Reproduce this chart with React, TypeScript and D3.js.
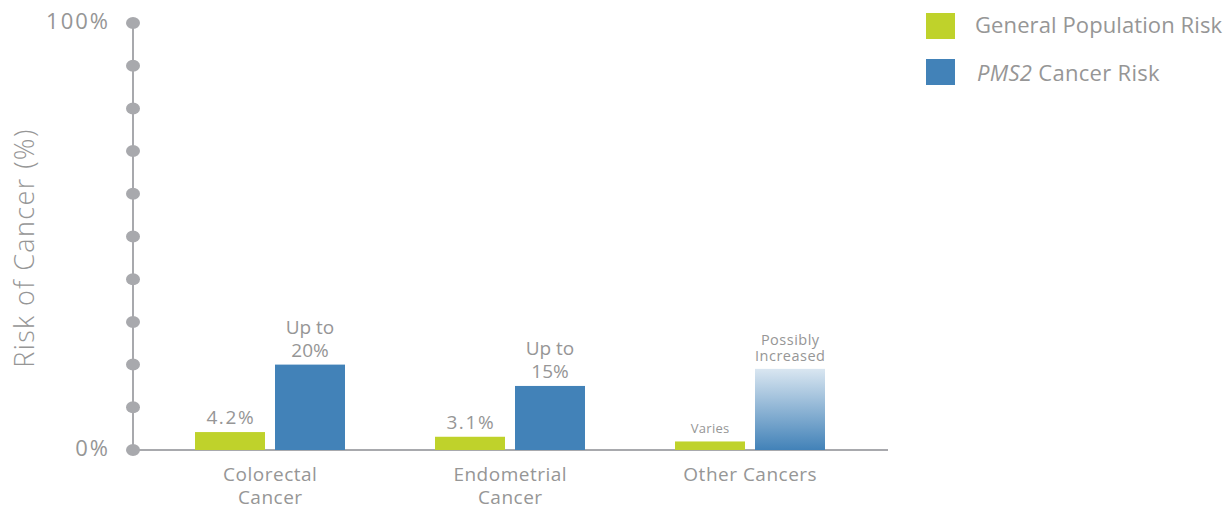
import React from "react";
import * as d3 from "d3";

const categories = [["Colorectal", "Cancer"], ["Endometrial", "Cancer"], ["Other Cancers"]];
const generalRisk = [4.2, 3.1, 2];
const pms2Risk = [20, 15, 19];
const generalLabels = [["4.2%"], ["3.1%"], ["Varies"]];
const pms2Labels = [["Up to", "20%"], ["Up to", "15%"], ["Possibly", "Increased"]];
const yTicks = d3.range(0, 101, 10);
const yTickLabels = [0, 100];
const seriesNames = ["General Population Risk", "PMS2 Cancer Risk"];

const W = 1226, H = 508;
const GREEN = "#bfd22b";
const BLUE = "#4282b8";
const GREY = "#a8a9ad";
const TEXT = "#969696";
const FONT = "'Open Sans', sans-serif";

export default function App() {
  const y = d3.scaleLinear().domain([0, 100]).range([450, 23]);
  const x = d3.scaleBand<number>().domain(d3.range(categories.length)).range([150, 870]);
  const barW = 70, gap = 10;

  return (
    <svg width={W} height={H} style={{ position: "absolute", left: 0, top: 0 }} fontFamily={FONT}>
      <defs>
        <linearGradient id="fade" x1="0" y1="1" x2="0" y2="0">
          <stop offset="0" stopColor={BLUE} />
          <stop offset="1" stopColor={BLUE} stopOpacity={0.2} />
        </linearGradient>
      </defs>
      <line x1={133} x2={133} y1={y(100)} y2={y(0)} stroke={GREY} strokeWidth={2} />
      <line x1={133} x2={888} y1={y(0)} y2={y(0)} stroke={GREY} strokeWidth={2} />
      {yTicks.map((t) => (
        <ellipse key={t} cx={133} cy={y(t)} rx={7} ry={6} fill={GREY} />
      ))}
      {yTickLabels.map((t) => (
        <text key={t} x={110} y={y(t) + 6} textAnchor="end" fontSize={22} letterSpacing={2} fill={TEXT}>{t}%</text>
      ))}
      <text transform={`translate(34,${248}) rotate(-90)`} textAnchor="middle" fontSize={27} fontWeight={300} letterSpacing={1.4} fill={TEXT}>
        Risk of Cancer (%)
      </text>
      {categories.map((cat, i) => {
        const c = (x(i) as number) + x.bandwidth() / 2;
        const gx = c - gap / 2 - barW;
        const bx = c + gap / 2;
        const isOther = i === 2;
        const gLab = generalLabels[i];
        const bLab = pms2Labels[i];
        const fsG = isOther ? 13 : 19;
        const lsG = isOther ? 0.3 : 1.6;
        const fsB = isOther ? 14.5 : 19;
        const lhB = isOther ? 15.5 : 22.5;
        return (
          <g key={i}>
            <rect x={gx} y={y(generalRisk[i])} width={barW} height={y(0) - y(generalRisk[i])} fill={GREEN} />
            <rect x={bx} y={y(pms2Risk[i])} width={barW} height={y(0) - y(pms2Risk[i])} fill={isOther ? "url(#fade)" : BLUE} />
            {gLab.map((l, k) => (
              <text key={k} x={gx + barW / 2 + lsG / 2} y={y(generalRisk[i]) - 8 - (gLab.length - 1 - k) * 22}
                textAnchor="middle" fontSize={fsG} fill={TEXT} letterSpacing={lsG}>{l}</text>
            ))}
            {bLab.map((l, k) => (
              <text key={k} x={bx + barW / 2 + (isOther ? 0.25 : 0)} y={y(pms2Risk[i]) - 8 - (bLab.length - 1 - k) * lhB}
                textAnchor="middle" fontSize={fsB} letterSpacing={isOther ? 0.5 : 0} fill={TEXT}>{l}</text>
            ))}
            {cat.map((l, k) => (
              <text key={k} x={c + 0.25} y={481 + k * 23} textAnchor="middle" fontSize={19} letterSpacing={0.5} fill={TEXT}>{l}</text>
            ))}
          </g>
        );
      })}
      <rect x={926} y={13} width={29} height={26} fill={GREEN} />
      <rect x={926} y={59} width={29} height={26} fill={BLUE} />
      <text x={975} y={33} fontSize={22} letterSpacing={0.1} fill={TEXT}>{seriesNames[0]}</text>
      <text x={977} y={81} fontSize={22} letterSpacing={0.3} fill={TEXT}>
        <tspan fontStyle="italic">{seriesNames[1].split(" ")[0]}</tspan>
        {" " + seriesNames[1].split(" ").slice(1).join(" ")}
      </text>
    </svg>
  );
}
